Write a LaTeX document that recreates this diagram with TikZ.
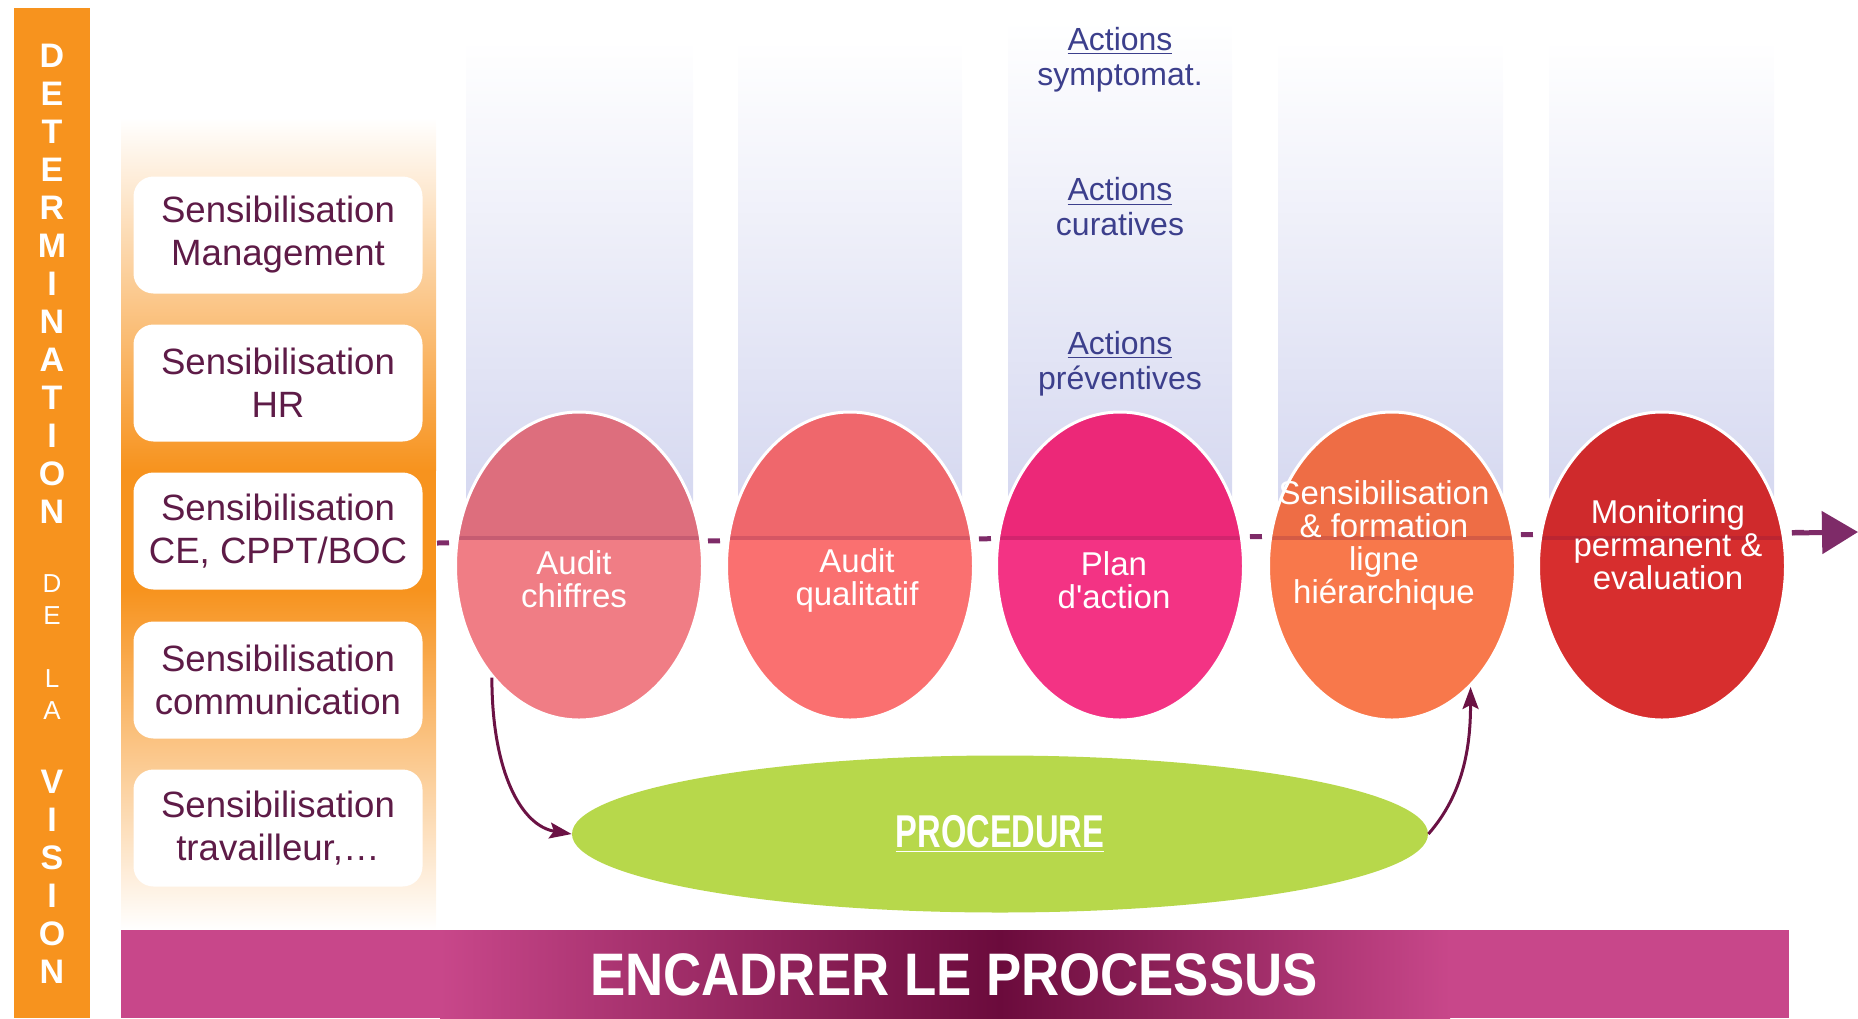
\documentclass[tikz,border=0pt]{standalone}
\usepackage{fontspec}
\setmainfont{Liberation Sans}
\usepackage{graphicx}
\usetikzlibrary{arrows.meta,shapes.geometric}

\definecolor{visionorange}{HTML}{F7931E}
\definecolor{lavender}{HTML}{D2D5EF}
\definecolor{plumtext}{HTML}{5E1B47}
\definecolor{navytext}{HTML}{3C3F8C}
\definecolor{flowplum}{HTML}{6B1244}
\definecolor{lineplum}{HTML}{7E2B68}
\definecolor{barpink}{HTML}{C8478A}
\definecolor{bardark}{HTML}{6B0B3C}
\definecolor{procgreen}{HTML}{B7D84B}
\definecolor{eAup}{HTML}{DD6E7D}
\definecolor{eAlo}{HTML}{F07D85}
\definecolor{eBup}{HTML}{EF676C}
\definecolor{eBlo}{HTML}{FA7070}
\definecolor{eCup}{HTML}{EC2878}
\definecolor{eClo}{HTML}{F33384}
\definecolor{eDup}{HTML}{EE6D45}
\definecolor{eDlo}{HTML}{F8784B}
\definecolor{eEup}{HTML}{CF2A2C}
\definecolor{eElo}{HTML}{D72E2E}

\begin{document}
\begin{tikzpicture}[x=0.5pt,y=-0.5pt,
  sbox/.style={rounded corners=10pt, fill=white, minimum width=144.5pt, minimum height=58.5pt,
    align=center, text=plumtext, inner sep=0pt, font=\fontsize{18.3}{21.5}\selectfont},
  bubble/.style 2 args={ellipse, minimum width=123.5pt, minimum height=154pt, inner sep=0pt,
    draw=white, line width=1.5pt, fill=#2,
    path picture={\fill[#1] (path picture bounding box.north west) rectangle ([yshift=14pt]path picture bounding box.east);
      \draw[#1!80!flowplum, line width=2pt] ([yshift=14pt]path picture bounding box.west) -- ([yshift=14pt]path picture bounding box.east);}},
  etext/.style={align=center, text=white, inner sep=0pt, font=\fontsize{16.5}{16.5}\selectfont},
  acttext/.style={align=center, text=navytext, inner sep=0pt, font=\fontsize{16}{17.5}\selectfont},
  vletter/.style={align=center, text=white, inner sep=0pt, font=\fontsize{17}{19}\selectfont\bfseries},
  vsmall/.style={align=center, text=white, inner sep=0pt, font=\fontsize{13}{16}\selectfont},
  flow/.style={draw=flowplum, line width=1.5pt, -{Stealth[length=11pt,width=8pt,inset=2pt]}}]
\useasboundingbox (0,0) rectangle (1858,1018);
% orange vision bar
\fill[visionorange] (14,8) rectangle (90,1018);
% left panel
\shade[top color=white, bottom color=visionorange] (121,118) rectangle (436,470);
\fill[visionorange] (121,470) rectangle (436,590);
\shade[top color=visionorange, bottom color=white] (121,590) rectangle (436,930);
% lavender columns
\shade[top color=white, bottom color=lavender] (466,40) rectangle (693,541);
\shade[top color=white, bottom color=lavender] (738,40) rectangle (962,541);
\shade[top color=white, bottom color=lavender] (1008,20) rectangle (1232,541);
\shade[top color=white, bottom color=lavender] (1278,40) rectangle (1503,541);
\shade[top color=white, bottom color=lavender] (1549,40) rectangle (1774,541);
% process line
\coordinate (start) at (437,543);
\coordinate (tip) at (1858,532);
\coordinate (a0) at (1792,533);
\draw[lineplum, line width=2.5pt, dash pattern=on 6pt off 129.5pt] (start) -- (tip);
\draw[lineplum, line width=2.5pt, -{Triangle[length=18pt,width=21pt]}] (a0) -- (tip);
% steps
\node[bubble={eAup}{eAlo}] (e1) at (579,566) {};
\node[bubble={eBup}{eBlo}] (e2) at (850,566) {};
\node[bubble={eCup}{eClo}] (e3) at (1120,566) {};
\node[bubble={eDup}{eDlo}] (e4) at (1392,566) {};
\node[bubble={eEup}{eElo}] (e5) at (1662,566) {};
\node[etext] (t1) at (574,579) {Audit\\chiffres};
\node[etext] (t2) at (857,580) {Audit\\qualitatif};
\node[etext] (t3) at (1114,580) {Plan\\d\textquotesingle action};
\node[etext] (t4) at (1384,545) {Sensibilisation\\\&~formation\\ligne\\hiérarchique};
\node[etext] (t5) at (1668,545) {Monitoring\\permanent \&\\evaluation};
% actions
\node[acttext] (a1) at (1120,60) {\underline{Actions}\\symptomat.};
\node[acttext] (a2) at (1120,207) {\underline{Actions}\\curatives};
\node[acttext] (a3) at (1120,364) {\underline{Actions}\\préventives};
% sensibilisation
\node[sbox] (s1) at (278,235) {Sensibilisation\\Management};
\node[sbox] (s2) at (278,383) {Sensibilisation\\HR};
\node[sbox] (s3) at (278,531) {Sensibilisation\\CE, CPPT/BOC};
\node[sbox] (s4) at (278,680) {Sensibilisation\\communication};
\node[sbox] (s5) at (278,828) {Sensibilisation\\travailleur,\dots};
% procedure
\node[ellipse, fill=procgreen, minimum width=428pt, minimum height=78.5pt, inner sep=0pt,
  text=white, font=\fontsize{23}{23}\selectfont\bfseries] (proc) at (1000,834) {\scalebox{0.71}[1]{\underline{PROCEDURE}}};
\draw[flow] (e1.232) .. controls +(0,95) and +(-50,-8) .. (proc.west);
\draw[flow] (proc.east) .. controls +(35,-40) and +(0,60) .. (e4.303);
% bottom bar
\fill[barpink] (121,930) rectangle (1789,1018);
\shade[left color=barpink, right color=bardark] (440,930) rectangle (1000,1018);
\shade[left color=bardark, right color=barpink] (1000,930) rectangle (1450,1018);
\node[text=white, inner sep=0pt, font=\fontsize{30}{30}\selectfont\bfseries] (frame) at (954,975) {\scalebox{0.88}[1]{ENCADRER LE PROCESSUS}};
% vertical title
\node[vletter] (v1) at (52,284) {D\\E\\T\\E\\R\\M\\I\\N\\A\\T\\I\\O\\N};
\node[vsmall] (v2) at (52,600) {D\\E};
\node[vsmall] (v3) at (52,695) {L\\A};
\node[vletter] (v4) at (52,877) {V\\I\\S\\I\\O\\N};
\end{tikzpicture}
\end{document}
